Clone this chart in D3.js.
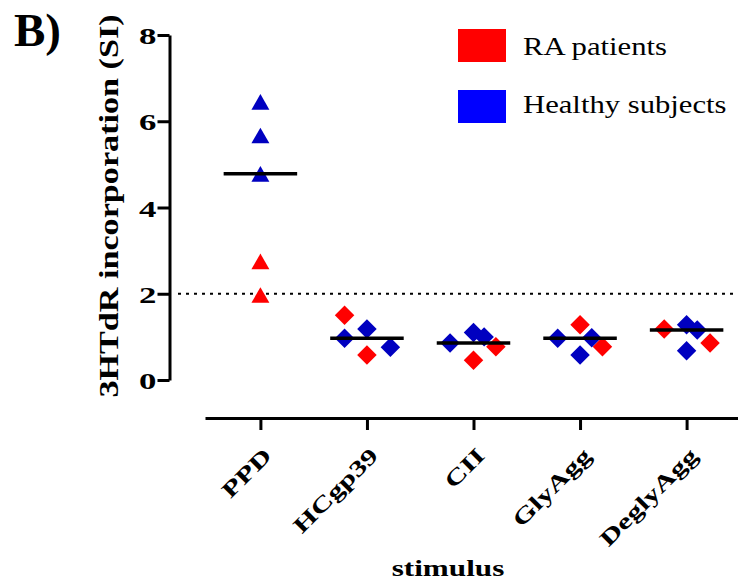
<!DOCTYPE html>
<html>
<head>
<meta charset="utf-8">
<script src="https://cdn.jsdelivr.net/npm/d3@7"></script>
<style>
  html, body { margin: 0; padding: 0; background: #fff; }
  svg { display: block; }
  text { font-family: "Liberation Serif", "Times New Roman", serif; fill: #000; }
</style>
</head>
<body>
<svg id="chart" width="738" height="583"></svg>
<script>
// Stimuli and proliferation values (stimulation index, SI)
const stimuli = ["PPD", "HCgp39", "CII", "GlyAgg", "DeglyAgg"];
const raValues = [
  [2.75, 1.97],
  [1.50, 0.58],
  [0.77, 0.46],
  [1.28, 0.77],
  [1.18, 0.86]
];
const healthyValues = [
  [6.45, 5.67, 4.78],
  [0.97, 1.18, 0.76],
  [0.86, 1.10, 1.00],
  [0.97, 0.58, 0.98],
  [1.28, 1.16, 0.68]
];
const yTicks = [0, 2, 4, 6, 8];
const threshold = 2;
const groupNames = ["RA patients", "Healthy subjects"];

// horizontal scatter of overlapping points, in fractions of a category step
const raJitter = [[0, 0], [-0.21, 0], [0.21, 0], [0, 0.21], [-0.21, 0.22]];
const healthyJitter = [[0, 0, 0], [-0.21, 0, 0.22], [-0.22, 0, 0.1], [-0.21, 0, 0.11], [0, 0.1, 0]];

const svg = d3.select("#chart");
const font = '"Liberation Serif", "Times New Roman", serif';

const x = d3.scalePoint().domain(stimuli).range([205, 742]).padding(0.52);
const y = d3.scaleLinear().domain([0, 8]).range([380, 35]);

const red = "#ff0000", blueMark = "#0000c0", blueKey = "#0000ff";

// triangle centred on its bounding box
const boxTriangle = {
  draw(ctx, size) {
    const w = Math.sqrt(size * 4 / Math.sqrt(3));
    const h = w * Math.sqrt(3) / 2;
    ctx.moveTo(0, -h / 2);
    ctx.lineTo(w / 2, h / 2);
    ctx.lineTo(-w / 2, h / 2);
    ctx.closePath();
  }
};

// panel letter
svg.append("text").attr("x", 14).attr("y", 46)
  .style("font-size", "47px").style("font-weight", "bold").text("B)");

// threshold line
svg.append("line")
  .attr("x1", 178).attr("x2", 738)
  .attr("y1", y(threshold)).attr("y2", y(threshold))
  .attr("stroke", "#000").attr("stroke-width", 2)
  .attr("stroke-dasharray", "3,5");

// y axis
const gy = svg.append("g").attr("transform", "translate(169.5,0)")
  .call(d3.axisLeft(y).tickValues(yTicks).tickSize(12).tickSizeOuter(0).tickFormat(d3.format("d")));
gy.select(".domain").attr("stroke-width", 3);
gy.selectAll(".tick line").attr("stroke-width", 3);
gy.selectAll(".tick text")
  .style("font-family", font).style("font-size", "24px").style("font-weight", "bold")
  .attr("x", 0).attr("dy", "0.36em")
  .attr("transform", "translate(-13,0) scale(1.45,1)");

svg.append("text")
  .attr("transform", "translate(118,206) rotate(-90) scale(1.22,1)")
  .attr("text-anchor", "middle")
  .style("font-size", "28px").style("font-weight", "bold")
  .text("3HTdR incorporation (SI)");

// x axis
const gx = svg.append("g").attr("transform", "translate(0,418)")
  .call(d3.axisBottom(x).tickSize(12).tickSizeOuter(0));
gx.select(".domain").attr("stroke-width", 3);
gx.selectAll(".tick line").attr("stroke-width", 3);
gx.selectAll(".tick text")
  .style("font-family", font).style("font-size", "22px").style("font-weight", "bold")
  .attr("x", 0).attr("y", 0).attr("dy", 0)
  .attr("text-anchor", "end")
  .attr("transform", "translate(12,39) rotate(-45) scale(1.4,1)");

svg.append("text")
  .attr("transform", "translate(448,576) scale(1.3,1)")
  .attr("text-anchor", "middle")
  .style("font-size", "24px").style("font-weight", "bold")
  .text("stimulus");

// points: healthy subjects first, RA patients drawn on top
const points = [];
stimuli.forEach((s, i) => {
  healthyValues[i].forEach((v, j) => points.push({ s, i, v, off: healthyJitter[i][j], color: blueMark }));
});
stimuli.forEach((s, i) => {
  raValues[i].forEach((v, j) => points.push({ s, i, v, off: raJitter[i][j], color: red }));
});

const tri = d3.symbol().type(boxTriangle).size(140);
const dia = d3.symbol().type(d3.symbolSquare).size(190);

svg.append("g").selectAll("path").data(points).join("path")
  .attr("d", d => (d.i === 0 ? tri() : dia()))
  .attr("transform", d => `translate(${x(d.s) + d.off * x.step()},${y(d.v)})` + (d.i === 0 ? "" : " rotate(45)"))
  .attr("fill", d => d.color);

// medians
const medians = stimuli.map((s, i) => ({ s, m: d3.median(raValues[i].concat(healthyValues[i])) }));
const half = x.step() * 0.345;
svg.append("g").selectAll("line").data(medians).join("line")
  .attr("x1", d => x(d.s) - half).attr("x2", d => x(d.s) + half)
  .attr("y1", d => y(d.m)).attr("y2", d => y(d.m))
  .attr("stroke", "#000").attr("stroke-width", 3.5);

// legend
const legend = svg.append("g");
[red, blueKey].forEach((c, k) => {
  legend.append("rect").attr("x", 458).attr("y", 29 + k * 61).attr("width", 48).attr("height", 33).attr("fill", c);
  legend.append("text")
    .attr("transform", `translate(523,${55 + k * 58}) scale(1.18,1)`)
    .style("font-size", "26px").text(groupNames[k]);
});
</script>
</body>
</html>
